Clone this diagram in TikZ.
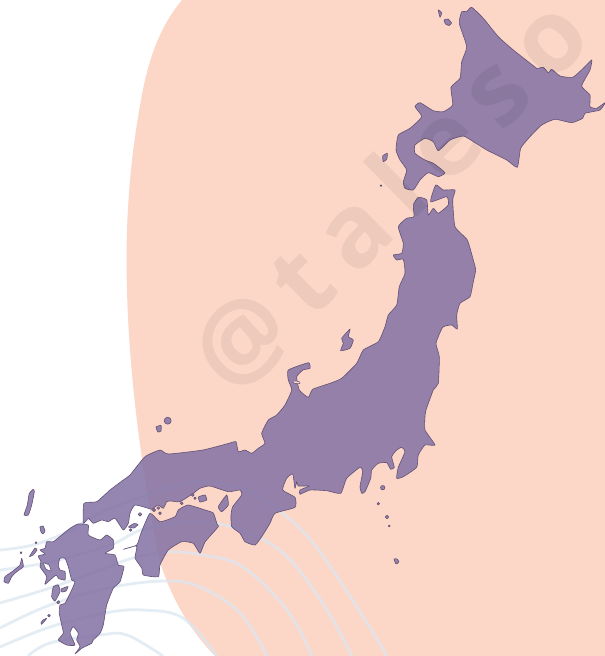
\documentclass[tikz,border=0pt]{standalone}
\usepackage{fontspec}
\newfontfamily\markfont{Open Sans}[BoldFont={Open Sans Bold}]
\definecolor{sand}{HTML}{FCD7C7}
\definecolor{isle}{RGB}{130,113,164}
\definecolor{coast}{HTML}{5E4C72}
\definecolor{swell}{HTML}{DCE7F1}
\tikzset{
  land/.style={fill=isle,fill opacity=.85,draw=coast,draw opacity=.95,line width=.45pt,line join=round,even odd rule},
  wave/.style={draw=swell,line width=2.1pt,opacity=.75},
  stamp/.style={text=black,text opacity=.058,font=\markfont\bfseries\fontsize{76}{76}\selectfont,rotate=44.5,inner sep=0pt}
}
\newcommand{\shore}[1]{plot[smooth cycle,tension=.3] coordinates {#1}}
\begin{document}
\begin{tikzpicture}[x=.75pt,y=-.75pt]
\useasboundingbox (0,0) rectangle (605,656);
\clip (0,0) rectangle (605,656);
\fill[white] (0,0) rectangle (605,656);
% backdrop
\fill[sand] (182,0) .. controls (160,26) and (148,60) .. (141,100)
  .. controls (130,160) and (125,220) .. (127,290)
  .. controls (129,370) and (140,460) .. (158,555)
  .. controls (168,590) and (185,625) .. (215,656)
  -- (605,656) -- (605,0) -- cycle;
% swell lines
\draw[wave] plot[smooth,tension=.6] coordinates {(0,550)(33,545)(67,532)(100,513)(150,494)(197,482)(247,490)(287,517)(317,548)(357,607)(387,656)};
\draw[wave] plot[smooth,tension=.6] coordinates {(0,570)(50,562)(110,545)(147,528)(207,522)(260,538)(293,563)(327,610)(352,656)};
\draw[wave] plot[smooth,tension=.6] coordinates {(0,603)(50,588)(100,570)(133,558)(167,552)(203,555)(243,567)(287,610)(312,656)};
\draw[wave] plot[smooth,tension=.6] coordinates {(0,628)(50,605)(113,587)(167,581)(200,587)(240,613)(267,656)};
\draw[wave] plot[smooth,tension=.6] coordinates {(0,647)(50,627)(105,613)(143,610)(183,618)(217,656)};
\draw[wave] plot[smooth,tension=.6] coordinates {(28,656)(50,643)(100,635)(127,635)(163,656)};
% Hokkaido
\path[land] \shore{(471.7,7.3)(483.3,18.3)(498.3,36.7)(513.3,50)(533.3,65.7)(537,68.5)(543.3,67.3)(548.3,72.7)(551.7,69.3)(560,76)(572.7,77.3)(583.3,68.3)(591.7,60)(590,70)(581.7,86)(590,95)(590,106.7)(596.7,108.3)(605,102.7)(600,110)(585,113.3)(582.7,118.3)(571.7,122.7)(555,119.3)(541.7,125)(530,136.7)(520.7,148.3)(517.3,167.3)(506.7,160)(486.7,150)(475,142.7)(463.3,136)(450,140)(438.3,150.7)(433.3,141.7)(425,138.3)(415,145)(415,153.3)(425,160)(433.3,163.3)(445,172.7)(438.3,176.7)(428.3,172.7)(420,180)(413.3,190)(405,188.3)(403.3,181.7)(406.7,170)(400,160)(396,150)(398.3,135)(410,128.3)(421.7,116.7)(415,106.7)(420,102.7)(433.3,110.7)(443.3,111.7)(452.7,105)(451,87.3)(460,78.3)(461.7,61.7)(466.7,46.7)(459.3,23.3)(461.7,11.7)(466.7,11.7)};
\path[land] \shore{(438.3,10)(441.7,12.7)(440,17.3)};
\path[land] \shore{(444,20)(448,19)(451.5,23)(449,25.5)(445.5,24)};
\path[land] \shore{(387.3,153.3)(386.7,159.3)(383.3,161.7)(382.7,156)};
\path[land] (381,185.7) circle (.8);
% Honshu
\path[land] \shore{(435.7,185)(443.3,190)(455,190)(452.7,200)(455,226.7)(467.3,240)(473.3,260)(475.7,270)(473.3,281.7)(470,296.7)(460,303.3)(456.7,315)(457.3,329)(451.7,325)(442.7,327.3)(436,343.3)(439.3,356.7)(438.3,383.3)(433.3,390)(426,410)(425,416.7)(425,430)(435,445)(425,445)(418.3,455)(416.7,467.3)(403.3,476.7)(396.7,478.3)(398.3,467.3)(405,451.7)(401.7,447.3)(396.7,450)(391.7,456.7)(394.3,467.3)(390.7,469.3)(386.7,462.7)(378.3,463.3)(371.7,470)(370.7,478.3)(365,491.7)(361.7,493.3)(360,486.7)(362.7,471.7)(360,467.3)(346.7,478.3)(340.7,493.3)(326.7,490.7)(310,490)(300,494.3)(300,490)(309.3,486)(298.3,486)(296.7,481.7)(295,488.3)(292.7,474)(286.7,478.3)(282.7,490)(295,497.3)(295,507.3)(275,513.3)(270,523.3)(261.7,536.7)(255,545)(245,541.7)(240,533.3)(231.7,526.7)(231,515)(232.7,506.7)(241.7,495)(240,490)(228.3,491.7)(210,486)(200,488.3)(193.3,493.3)(180,501.7)(171,501)(166.7,501.7)(163.3,508.3)(158,505)(151.7,509.3)(148.3,508.3)(135,505)(130,513.3)(128.3,523.3)(123.3,530)(115,518.3)(108.3,521.7)(101.7,520)(93.3,523.3)(88.3,518.3)(83.3,523.3)(84,503.3)(96.7,501.7)(110,490)(123.3,480)(130,475)(145,456.7)(160,450)(168.3,454)(203,450)(230,443)(236,441.7)(238.3,451.7)(245,450)(251.7,453.3)(258.3,448.3)(265,443.3)(261.7,433.3)(268.3,420)(276.7,415)(285,405)(291.7,390)(288.3,380)(288.3,370)(308.3,362.7)(310,368.3)(303,370)(296.7,376.7)(299.3,390)(308.3,397.3)(312.7,389.3)(330,383.3)(341.7,378.3)(356.7,363.3)(363.3,350)(378.3,341.7)(385,326.7)(388.3,315)(396.7,305)(399.3,286.7)(405,273.3)(403.3,259.3)(396.7,260)(393.3,255)(401.7,253.3)(403.3,243.3)(398.3,226.7)(406.7,218.3)(414,216.7)(413.3,205)(418.3,197.3)(426.7,200)(428.3,215)(433.3,208.3)(438.3,213.3)(448.3,205)(446.7,196.7)(430.7,201.7)};
% Noto slit
\path[fill=sand,draw=coast,line width=.35pt] plot[smooth cycle,tension=.3] coordinates {(293,381)(299,381.5)(300,383.5)(294,383.2)};
% Sado, Oki and the southern isles
\path[land] \shore{(350,329)(348.3,336.7)(353.3,340)(350,348.3)(340.7,350.7)(343.3,343.3)(341.7,338.3)};
\path[land] (167.7,420.7) circle (3.5);
\path[land] \shore{(156,427)(161,425.5)(161,431)(158,432)};
\path[land] (382.7,487.7) circle (2.2);
\path[land] (378.3,503.7) circle (1.3);
\path[land] (387,517) circle (1.8);
\path[land] (389.3,526) circle (.9);
\path[land] \shore{(394,559)(397,559)(399,562)(396,564)};
% Shikoku and Awaji
\path[land] \shore{(123.3,549.3)(136.7,545)(141,533)(150,513.3)(160,521.7)(175,516.7)(178.3,510)(188,505)(205,510)(213.3,513)(217,524)(218.3,526.7)(205,542)(200,553.3)(193.3,543.3)(181.7,541.7)(168.3,550)(160,565)(158.3,576.7)(143.3,575)(141.7,568)(135,558)(136.7,546)};
\path[land] \shore{(226.7,495)(218.3,506.7)(221.7,511.7)(228.3,505)};
% Inland sea isles
\path[land] \shore{(198.5,497)(205,495)(206.7,500)(200,502)};
\path[land] (195,498.3) circle (1.2);
\path[land] (192.7,495) circle (1.4);
\path[land] (181.7,503.3) circle (1.4);
\path[land] (154,510) circle (1.6);
\path[land] (158.3,508) circle (1.5);
\path[land] (160,513.3) circle (1.4);
\path[land] (140,514.3) circle (1.8);
\path[land] \shore{(128.5,527)(134,523.5)(138,524.5)(134,528)};
\path[land] (130.7,530) circle (1.3);
% Kyushu
\path[land] \shore{(70,528.3)(78,524)(88.3,525)(88.3,535)(100,540)(106.7,535)(113.3,540)(113.3,548.3)(105,553.3)(115,555)(118.3,565)(124,566.7)(120,581.7)(113.3,588.3)(106.7,605)(103.3,625)(100,633.3)(93.3,640)(91.7,643.3)(81.7,648.3)(75,654)(80,646.7)(76.7,640)(78.3,633.3)(73.3,626.7)(70,633.3)(75,645)(66.7,645)(58.3,640)(63.3,633.3)(61.7,625)(59.3,613.3)(60,605)(65,603.3)(71.7,590)(75,581.7)(71.7,580)(68.3,566.7)(65,558.3)(60,558.3)(58.3,565)(60,570)(65,571.7)(65,580)(58.3,578.3)(56,575)(45,584.3)(46.7,576.7)(40,566.7)(41,561.7)(38.3,556)(45,554)(40,550)(45,548.3)(46.7,541.7)(53.3,541.7)(61.7,535)};
\path[fill=white,draw=coast,line width=.4pt] plot[smooth cycle,tension=.3] coordinates {(43.5,563)(49,565)(51,571)(46,569)};
% Kyushu isles
\path[land] \shore{(21.7,558.3)(23.3,566.7)(16.7,571.7)(11.7,576.7)(8.3,583.3)(4,581.7)(5,576.7)(13.3,570.7)(20,565)};
\path[land] \shore{(33.3,489.3)(29.3,493.3)(27.3,505)(24,515)(28.3,515)(31.7,505)(34.3,491.7)};
\path[land] \shore{(40,527)(43,526)(45,531)(43,534)(41,532)};
\path[land] (36,542.7) circle (1);
\path[land] \shore{(35,548)(29.5,556.5)(33,555)(37,550)};
\path[land] (21,552.7) circle (1);
\path[land] \shore{(41.7,624.3)(46.7,618.3)(43,620)(41,622.7)};
\path[land] (49,615.7) circle (1.3);
\path[land] \shore{(53.3,586.7)(58.3,585)(60,591.7)(55,601)(51.7,596.7)};
\path[land] \shore{(61,589)(68,586.5)(66,591)(62,592)};
\path[land] (58.3,602.3) circle (1.6);
% watermark
\node[stamp] (stamptext) at (390,195) {@\kern.177em t\kern.177em a\kern.177em l\kern.177em e\kern.177em s\kern.177em o};
\end{tikzpicture}
\end{document}
